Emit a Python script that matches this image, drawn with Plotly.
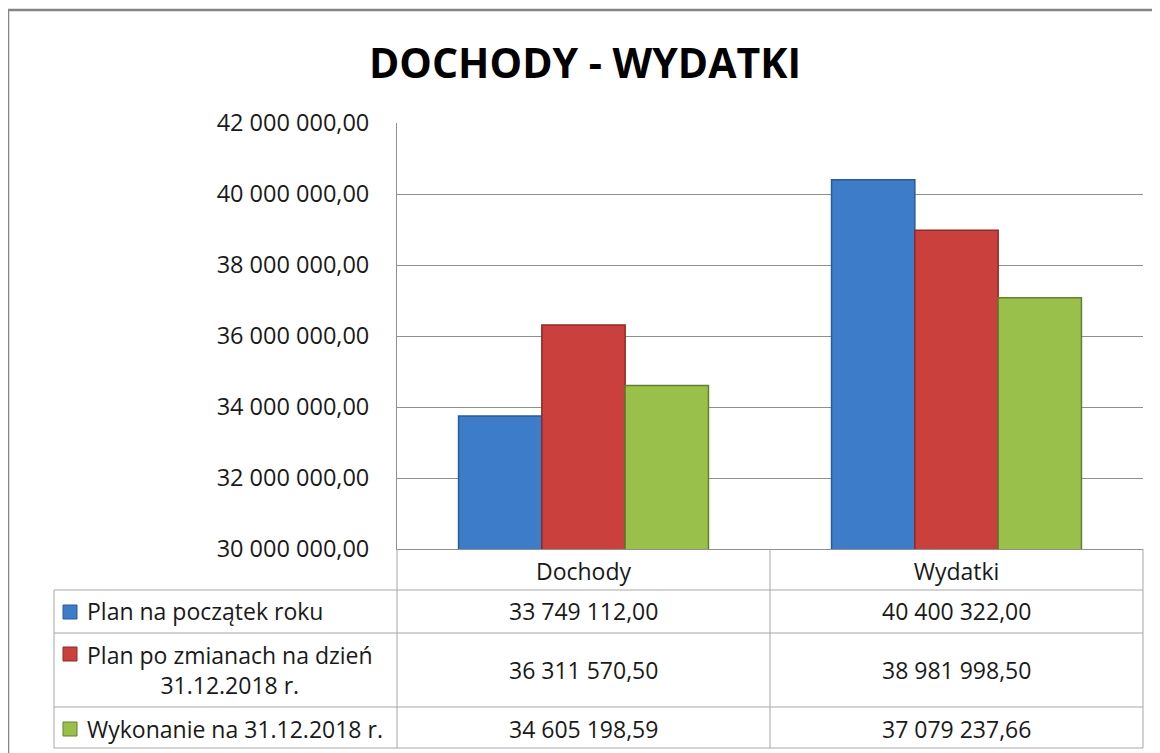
import plotly.graph_objects as go

# ---- data ----
categories = ["Dochody", "Wydatki"]
series_names = ["Plan na początek roku", "Plan po zmianach na dzień<br>31.12.2018 r.", "Wykonanie na 31.12.2018 r."]
plan_poczatek = [33749112.00, 40400322.00]
plan_zmiany = [36311570.50, 38981998.50]
wykonanie = [34605198.59, 37079237.66]
y_ticks = [30000000, 32000000, 34000000, 36000000, 38000000, 40000000, 42000000]
title_text = "DOCHODY - WYDATKI"

series_values = [plan_poczatek, plan_zmiany, wykonanie]
fill_colors = ["#3d7cc9", "#c9403d", "#98c04a"]
edge_colors = ["#2b5a94", "#8e2b29", "#62812c"]

FONT = "Open Sans"
W, H = 1160, 753
OFF = 8  # page body margin offset
# plot area in page pixels: x 397..1143, y 123..549
L = 397 - OFF
R = W - (1143 - OFF)
T = 123 - OFF
B = H - (549 - OFF)
PW, PH = W - L - R, H - T - B


def px(x):
    return (x - OFF - L) / PW


def py(y):
    return (H - B - (y - OFF)) / PH


def pl(v):
    s = f"{v:,.2f}"
    return s.replace(",", " ").replace(".", ",")


fig = go.Figure()
for name, vals, fc, ec in zip(series_names, series_values, fill_colors, edge_colors):
    fig.add_trace(go.Bar(
        x=categories, y=vals, name=name,
        marker=dict(color=fc, line=dict(color=ec, width=1.5)),
        hoverinfo="skip",
    ))

grid_col = "#8f8f8f"
tab_col = "#a6a6a6"

shapes = []
# outer chart border
shapes.append(dict(type="rect", xref="paper", yref="paper",
                   x0=px(8), x1=px(1210), y0=py(800), y1=py(10),
                   line=dict(color="#858585", width=2.5), fillcolor="rgba(0,0,0,0)", layer="above"))
# table horizontal lines
for yy in [590, 633, 707, 748]:
    shapes.append(dict(type="line", xref="paper", yref="paper",
                       x0=px(54), x1=px(1143), y0=py(yy), y1=py(yy),
                       line=dict(color=tab_col, width=1)))
# table vertical lines
shapes.append(dict(type="line", xref="paper", yref="paper",
                   x0=px(54), x1=px(54), y0=py(590), y1=py(748), line=dict(color=tab_col, width=1)))
for xx in [397, 770, 1143]:
    shapes.append(dict(type="line", xref="paper", yref="paper",
                       x0=px(xx), x1=px(xx), y0=py(549), y1=py(748), line=dict(color=tab_col, width=1)))

annotations = []
row_centers = [611, 670, 729]
key_centers = [612, 654, 729]
for i, (name, vals) in enumerate(zip(series_names, series_values)):
    kc = key_centers[i]
    shapes.append(dict(type="rect", xref="paper", yref="paper",
                       x0=px(63), x1=px(77), y0=py(kc + 7), y1=py(kc - 7),
                       fillcolor=fill_colors[i], line=dict(color=edge_colors[i], width=1)))
    annotations.append(dict(xref="paper", yref="paper", x=px(85), y=py(row_centers[i]),
                            xanchor="left", yanchor="middle", align="center",
                            text=name, showarrow=False,
                            font=dict(family=FONT, size=23, color="#1a1a1a")))
    for cat, v in zip(categories, vals):
        annotations.append(dict(xref="x", yref="paper", x=cat, y=py(row_centers[i]),
                                xanchor="center", yanchor="middle",
                                text=pl(v), showarrow=False,
                                font=dict(family=FONT, size=23, color="#1a1a1a")))

fig.update_layout(
    width=W, height=H,
    margin=dict(l=L, r=R, t=T, b=B, pad=0),
    paper_bgcolor="white", plot_bgcolor="white",
    separators=", ",
    barmode="group", bargap=0.33, bargroupgap=0,
    showlegend=False,
    title=dict(text=title_text, x=(585 - OFF) / W, xanchor="center", y=1 - (64 - OFF) / H, yanchor="middle",
               xref="container", yref="container",
               font=dict(family=FONT, size=41, color="black", weight="bold")),
    shapes=shapes, annotations=annotations,
    font=dict(family=FONT, color="#1a1a1a"),
)
fig.update_yaxes(range=[30000000, 42000000], tickvals=y_ticks, tickformat=",.2f",
                 showgrid=True, gridcolor=grid_col, gridwidth=1,
                 showline=True, linecolor=grid_col, linewidth=1,
                 ticks="", ticklabelstandoff=22, zeroline=False,
                 tickfont=dict(family=FONT, size=23.5, color="#1a1a1a"))
fig.update_xaxes(showgrid=False, showline=True, linecolor=grid_col, linewidth=1,
                 ticks="", ticklabelstandoff=2,
                 tickfont=dict(family=FONT, size=23, color="#1a1a1a"))

fig.write_html("out.html")
